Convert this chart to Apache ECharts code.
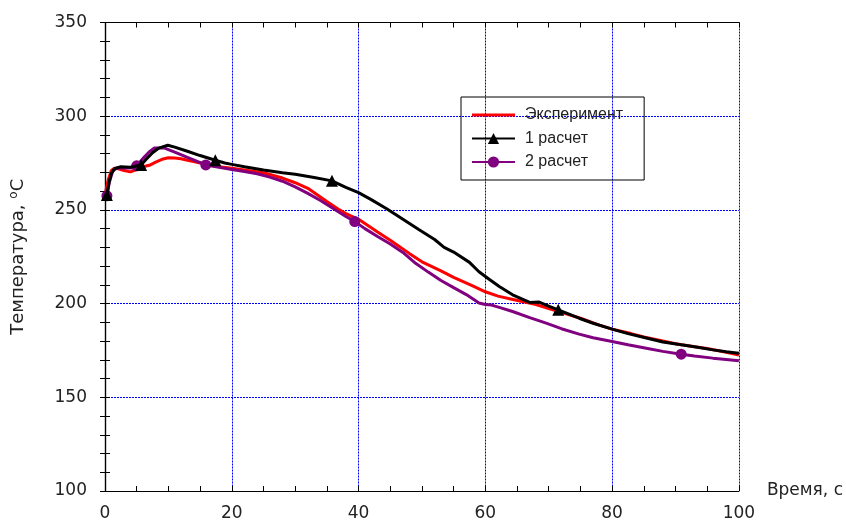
<!DOCTYPE html>
<html>
<head>
<meta charset="utf-8">
<script src="https://cdn.jsdelivr.net/npm/echarts@6/dist/echarts.min.js"></script>
<style>
  html, body { margin: 0; padding: 0; background: #ffffff; }
  #chart { width: 846px; height: 522px; }
</style>
</head>
<body>
<div id="chart"></div>
<script>
// Time axis, seconds
const xTicks = [0, 20, 40, 60, 80, 100];
const yTicks = [100, 150, 200, 250, 300, 350];

// Measured temperature
const expTime = [0, 0.5, 1, 1.5, 2, 3, 4, 5, 6, 7, 8, 9, 10, 11, 12, 13, 14, 16, 18, 20, 22, 25, 28, 30, 32, 35, 37, 38, 40, 43, 45, 48, 50, 53, 55, 58, 60, 62, 64, 66, 68, 70, 72, 75, 78, 80, 83, 85, 88, 90, 93, 95, 98, 100];
const expTemp = [258, 266, 271, 272.3, 272, 271, 270.3, 271.5, 273, 273.8, 275.5, 277, 277.8, 277.7, 277.3, 276.5, 275.8, 274.2, 273, 272.2, 271.3, 269.8, 267, 264.5, 261.5, 254.5, 250, 248, 245, 238.2, 233.8, 226.8, 222.3, 217.5, 214, 209.5, 206.3, 204, 202.5, 201, 199.5, 197.3, 195.3, 192.2, 188.5, 186.4, 184, 182.2, 180, 178.6, 177, 176, 174, 172.6];

// Calculation 1
const calc1Time = [0.3, 0.6, 1, 1.5, 2.5, 4, 5.7, 6.5, 7.5, 8.5, 9.9, 11, 13, 15, 17.4, 18.9, 20, 22, 25, 28, 30, 33, 35.8, 38, 40, 42, 44.5, 47, 49.5, 52, 53.5, 55, 57.5, 59, 60.6, 62.2, 64.3, 67, 68.5, 70.1, 71.5, 74.8, 77, 80, 82.5, 85.4, 88, 90.9, 93, 95.9, 98, 100];
const calc1Temp = [258, 264, 269.5, 272, 273, 272.8, 274, 277, 280.5, 283, 284.5, 283.5, 281.3, 279, 276.5, 275, 274.3, 273, 271.3, 269.8, 269, 267.3, 265.5, 262, 259.2, 255.5, 250.5, 245, 239.5, 234.2, 230, 227.5, 222, 217, 213, 209.1, 204.7, 200.6, 200.8, 198.5, 196.7, 192.2, 189.5, 186.4, 184, 181.6, 179.5, 178, 177, 175.3, 174.3, 173.5];
const calc1MarkerTimes = [0.3, 5.7, 17.4, 35.8, 71.5];

// Calculation 2
const calc2Time = [0.3, 0.7, 1.2, 1.8, 3, 4.2, 5, 6, 7, 7.8, 9.4, 11, 13, 15.9, 18, 20, 22, 24, 26, 28, 30, 32, 34, 36, 38, 39.4, 41, 43, 45, 47, 49, 51, 53, 55, 57, 59, 60, 61, 62.2, 64.3, 67, 69.6, 72, 74.8, 77, 80, 82.5, 85.4, 88, 90.9, 93, 95.9, 98, 100];
const calc2Temp = [257.5, 265, 270.5, 272.3, 272.5, 272.4, 273.5, 277.5, 281, 283, 283, 280.8, 278, 274, 272.7, 271.6, 270.5, 269.3, 267.5, 265.3, 262.3, 258.8, 255, 250.8, 246.5, 243.8, 240, 235.8, 231.8, 227.3, 221.5, 216.8, 212.3, 208.5, 204.8, 200.3, 199.5, 199.2, 198, 195.8, 192.5, 189.6, 186.6, 183.7, 181.8, 179.8, 178, 176.2, 174.5, 173, 172, 170.9, 170.2, 169.5];
const calc2MarkerTimes = [0.3, 5, 15.9, 39.4, 90.9];

const seriesNames = ['Эксперимент', '1 расчет', '2 расчет'];

function pairs(ts, vs) { return ts.map((t, i) => [t, vs[i]]); }
// Markers are drawn only at the listed times; the rest of the points stay plain line vertices
function markerSize(times, size) {
  return function (value) { return times.indexOf(value[0]) >= 0 ? size : 0; };
}

const textColor = '#222222';
const font = 'DejaVu Sans';
const gridLine = { show: true, lineStyle: { color: '#0000ff', type: [2, 1], width: 1 } };
const frameLine = { show: true, lineStyle: { color: '#000000', width: 1.2 } };
const tick = { show: true, inside: true, length: 5, lineStyle: { color: '#000' } };

const chart = echarts.init(document.getElementById('chart'), null, { renderer: 'canvas' });
chart.setOption({
  animation: false,
  backgroundColor: '#ffffff',
  // plot box sized so every grid line falls on a whole pixel
  grid: { left: 104.5, right: 106.5, top: 22.5, bottom: 29.5, containLabel: false },
  legend: {
    left: 461, top: 97, orient: 'vertical',
    borderColor: '#000000', borderWidth: 1,
    padding: [10, 21, 10, 10],
    itemWidth: 43, itemHeight: 14, itemGap: 7.5,
    textStyle: { fontFamily: 'Liberation Sans', fontSize: 16, color: textColor, padding: [0, 0, 0, 5] },
    data: [
      { name: seriesNames[0], icon: 'path://M0,0 L43,0 L43,3 L0,3 Z' },
      { name: seriesNames[1] },
      { name: seriesNames[2] }
    ]
  },
  xAxis: [{
    type: 'value', min: xTicks[0], max: xTicks[xTicks.length - 1], interval: 20,
    name: 'Время, с', nameLocation: 'end', nameGap: 28,
    nameTextStyle: { fontFamily: font, fontSize: 17, color: textColor, verticalAlign: 'middle', padding: [0, 0, 22, 0] },
    axisLine: frameLine,
    axisTick: tick,
    minorTick: { show: true, splitNumber: 4, length: 5, lineStyle: { color: '#000' } },
    axisLabel: { fontFamily: font, fontSize: 17, color: textColor, margin: 14 },
    splitLine: gridLine
  }, {
    type: 'value', position: 'top', min: xTicks[0], max: xTicks[xTicks.length - 1], interval: 20,
    axisLine: frameLine,
    axisTick: tick,
    minorTick: { show: true, splitNumber: 4, length: 5, lineStyle: { color: '#000' } },
    axisLabel: { show: false }, splitLine: { show: false }
  }],
  yAxis: [{
    type: 'value', min: yTicks[0], max: yTicks[yTicks.length - 1], interval: 50,
    name: '{a|Температура, }{s|o}{a|C}', nameLocation: 'middle', nameRotate: 90, nameGap: 77,
    nameTextStyle: {
      rich: {
        a: { fontFamily: font, fontSize: 18, color: textColor },
        s: { fontFamily: font, fontSize: 12, color: textColor, verticalAlign: 'bottom', padding: [0, 0, 8, 0] }
      }
    },
    axisLine: frameLine,
    axisTick: tick,
    minorTick: { show: true, splitNumber: 5, length: 5, lineStyle: { color: '#000' } },
    axisLabel: { fontFamily: font, fontSize: 17, color: textColor, margin: 18 },
    splitLine: gridLine
  }, {
    type: 'value', position: 'right', min: yTicks[0], max: yTicks[yTicks.length - 1], interval: 50,
    axisLine: frameLine,
    axisTick: tick,
    minorTick: { show: true, splitNumber: 5, length: 5, lineStyle: { color: '#000' } },
    axisLabel: { show: false }, splitLine: { show: false }
  }],
  series: [{
    name: seriesNames[0], type: 'line', data: pairs(expTime, expTemp),
    symbol: 'none', smooth: false, z: 2,
    lineStyle: { color: '#ff0000', width: 3 }, itemStyle: { color: '#ff0000' }
  }, {
    name: seriesNames[2], type: 'line', data: pairs(calc2Time, calc2Temp),
    symbol: 'circle', symbolSize: markerSize(calc2MarkerTimes, 11), showAllSymbol: true,
    smooth: false, z: 3,
    lineStyle: { color: '#800080', width: 3 }, itemStyle: { color: '#800080' }
  }, {
    name: seriesNames[1], type: 'line', data: pairs(calc1Time, calc1Temp),
    symbol: 'triangle', symbolSize: markerSize(calc1MarkerTimes, 12), showAllSymbol: true,
    smooth: false, z: 4,
    lineStyle: { color: '#000000', width: 3 }, itemStyle: { color: '#000000' }
  }]
});
</script>
</body>
</html>
